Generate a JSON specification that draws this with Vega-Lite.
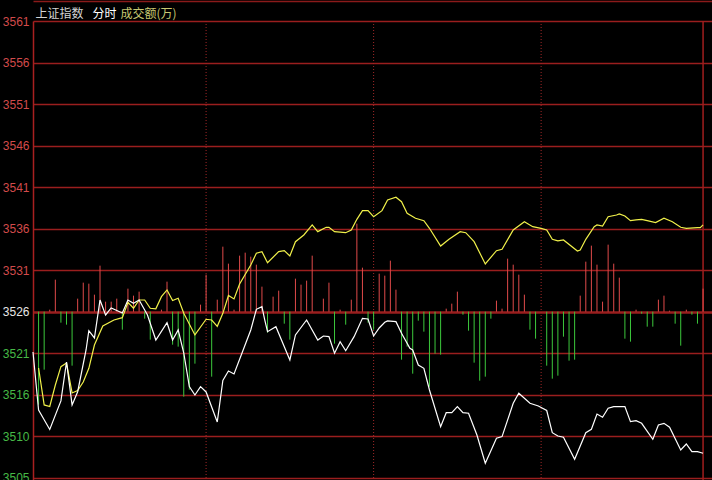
{
  "$schema": "https://vega.github.io/schema/vega-lite/v6.json",
  "width": 679,
  "height": 459,
  "autosize": {"type": "none"},
  "padding": {"left": 33, "top": 21, "right": 0, "bottom": 0},
  "background": "#000000",
  "config": {"view": {"stroke": null}, "font": "Liberation Sans"},
  "datasets": {
    "sessions": [{"t": 60}, {"t": 120}, {"t": 180}],
    "close": [{"t": 238}],
    "vol": [
      {"t": 0, "v": -9300}, {"t": 2, "v": -5800}, {"t": 4, "v": 200}, {"t": 6, "v": 3200}, {"t": 8, "v": -1100}, {"t": 10, "v": -1300}, {"t": 12, "v": -5400}, {"t": 14, "v": 1300}, {"t": 16, "v": 2900}, {"t": 18, "v": 2800}, {"t": 20, "v": 1700}, {"t": 22, "v": 4600}, {"t": 24, "v": 1000}, {"t": 26, "v": 1000}, {"t": 28, "v": 1300}, {"t": 30, "v": -1800}, {"t": 32, "v": 2300}, {"t": 34, "v": 1600}, {"t": 36, "v": 2000}, {"t": 38, "v": -700}, {"t": 40, "v": -2800}, {"t": 44, "v": 200}, {"t": 46, "v": 3000}, {"t": 48, "v": -3300}, {"t": 50, "v": -3500}, {"t": 52, "v": -8500}, {"t": 54, "v": -7800}, {"t": 56, "v": -5200}, {"t": 58, "v": 700}, {"t": 60, "v": 3700}, {"t": 62, "v": -6500}, {"t": 64, "v": 1200}, {"t": 66, "v": 6500}, {"t": 68, "v": 4800}, {"t": 70, "v": 200}, {"t": 72, "v": 5600}, {"t": 74, "v": 5900}, {"t": 76, "v": 5500}, {"t": 78, "v": 4700}, {"t": 80, "v": 2500}, {"t": 82, "v": -2100}, {"t": 84, "v": 1500}, {"t": 86, "v": 2100}, {"t": 88, "v": -1200}, {"t": 90, "v": -2800}, {"t": 92, "v": 3300}, {"t": 94, "v": 2700}, {"t": 96, "v": 3100}, {"t": 98, "v": 5600}, {"t": 102, "v": 1300}, {"t": 104, "v": 2900}, {"t": 106, "v": -3200}, {"t": 108, "v": 200}, {"t": 110, "v": -1300}, {"t": 112, "v": 1200}, {"t": 114, "v": 8800}, {"t": 116, "v": 4400}, {"t": 118, "v": -1100}, {"t": 120, "v": -1800}, {"t": 122, "v": 3800}, {"t": 124, "v": 3600}, {"t": 126, "v": 5100}, {"t": 128, "v": 2200}, {"t": 130, "v": -4800}, {"t": 132, "v": -3500}, {"t": 134, "v": -6200}, {"t": 136, "v": -900}, {"t": 138, "v": -2000}, {"t": 140, "v": -7500}, {"t": 142, "v": -4200}, {"t": 144, "v": -4300}, {"t": 146, "v": 300}, {"t": 148, "v": 800}, {"t": 150, "v": 2000}, {"t": 152, "v": -300}, {"t": 154, "v": -1900}, {"t": 156, "v": -5100}, {"t": 158, "v": -6900}, {"t": 160, "v": -6500}, {"t": 162, "v": -700}, {"t": 164, "v": 1100}, {"t": 166, "v": 300}, {"t": 168, "v": 5300}, {"t": 170, "v": 4700}, {"t": 172, "v": 3700}, {"t": 174, "v": 1700}, {"t": 176, "v": -1800}, {"t": 178, "v": -2700}, {"t": 182, "v": -5400}, {"t": 184, "v": -6700}, {"t": 186, "v": -6400}, {"t": 188, "v": -2500}, {"t": 190, "v": -4900}, {"t": 192, "v": -4800}, {"t": 194, "v": 1600}, {"t": 196, "v": 5000}, {"t": 198, "v": 6600}, {"t": 200, "v": 4700}, {"t": 202, "v": 1000}, {"t": 204, "v": 6700}, {"t": 206, "v": 4800}, {"t": 208, "v": 3400}, {"t": 210, "v": -2700}, {"t": 212, "v": -3000}, {"t": 214, "v": 200}, {"t": 216, "v": -200}, {"t": 218, "v": -1500}, {"t": 220, "v": -1500}, {"t": 222, "v": 1200}, {"t": 224, "v": 1600}, {"t": 226, "v": 100}, {"t": 228, "v": -1200}, {"t": 230, "v": -3400}, {"t": 232, "v": 200}, {"t": 234, "v": -300}, {"t": 236, "v": -1200}, {"t": 238, "v": 2300}
    ],
    "lines": [
      {"series": "均价", "t": 0, "p": 3519.3}, {"series": "均价", "t": 2, "p": 3514.78}, {"series": "均价", "t": 4, "p": 3514.59}, {"series": "均价", "t": 6, "p": 3517.22}, {"series": "均价", "t": 8, "p": 3519.47}, {"series": "均价", "t": 10, "p": 3519.92}, {"series": "均价", "t": 12, "p": 3516.25}, {"series": "均价", "t": 14, "p": 3516.55}, {"series": "均价", "t": 16, "p": 3517.59}, {"series": "均价", "t": 18, "p": 3519.27}, {"series": "均价", "t": 20, "p": 3522.12}, {"series": "均价", "t": 23, "p": 3524.45}, {"series": "均价", "t": 27, "p": 3525.18}, {"series": "均价", "t": 30, "p": 3525.47}, {"series": "均价", "t": 32, "p": 3527.33}, {"series": "均价", "t": 34, "p": 3526.62}, {"series": "均价", "t": 36, "p": 3527.63}, {"series": "均价", "t": 38, "p": 3527.63}, {"series": "均价", "t": 40, "p": 3526.62}, {"series": "均价", "t": 42, "p": 3526.55}, {"series": "均价", "t": 44, "p": 3528.04}, {"series": "均价", "t": 46, "p": 3528.86}, {"series": "均价", "t": 48, "p": 3527.57}, {"series": "均价", "t": 50, "p": 3527.84}, {"series": "均价", "t": 52, "p": 3526.0}, {"series": "均价", "t": 56, "p": 3523.35}, {"series": "均价", "t": 60, "p": 3525.27}, {"series": "均价", "t": 62, "p": 3525.18}, {"series": "均价", "t": 64, "p": 3524.41}, {"series": "均价", "t": 66, "p": 3526.0}, {"series": "均价", "t": 68, "p": 3528.18}, {"series": "均价", "t": 70, "p": 3527.76}, {"series": "均价", "t": 72, "p": 3529.59}, {"series": "均价", "t": 76, "p": 3531.92}, {"series": "均价", "t": 78, "p": 3533.35}, {"series": "均价", "t": 80, "p": 3533.55}, {"series": "均价", "t": 82, "p": 3532.2}, {"series": "均价", "t": 86, "p": 3533.55}, {"series": "均价", "t": 88, "p": 3533.67}, {"series": "均价", "t": 90, "p": 3533.02}, {"series": "均价", "t": 92, "p": 3534.77}, {"series": "均价", "t": 95, "p": 3535.59}, {"series": "均价", "t": 98, "p": 3536.82}, {"series": "均价", "t": 100, "p": 3536.0}, {"series": "均价", "t": 103, "p": 3536.53}, {"series": "均价", "t": 104, "p": 3536.53}, {"series": "均价", "t": 106, "p": 3536.0}, {"series": "均价", "t": 110, "p": 3535.87}, {"series": "均价", "t": 112, "p": 3536.2}, {"series": "均价", "t": 114, "p": 3537.51}, {"series": "均价", "t": 116, "p": 3538.57}, {"series": "均价", "t": 118, "p": 3538.57}, {"series": "均价", "t": 120, "p": 3537.83}, {"series": "均价", "t": 123, "p": 3538.57}, {"series": "均价", "t": 125, "p": 3539.88}, {"series": "均价", "t": 128, "p": 3540.21}, {"series": "均价", "t": 130, "p": 3539.67}, {"series": "均价", "t": 132, "p": 3538.25}, {"series": "均价", "t": 135, "p": 3537.64}, {"series": "均价", "t": 138, "p": 3537.34}, {"series": "均价", "t": 140, "p": 3536.41}, {"series": "均价", "t": 144, "p": 3534.24}, {"series": "均价", "t": 147, "p": 3535.06}, {"series": "均价", "t": 151, "p": 3536.0}, {"series": "均价", "t": 153, "p": 3535.87}, {"series": "均价", "t": 156, "p": 3534.77}, {"series": "均价", "t": 160, "p": 3532.04}, {"series": "均价", "t": 164, "p": 3533.67}, {"series": "均价", "t": 166, "p": 3533.84}, {"series": "均价", "t": 170, "p": 3536.2}, {"series": "均价", "t": 174, "p": 3537.22}, {"series": "均价", "t": 177, "p": 3536.61}, {"series": "均价", "t": 180, "p": 3536.39}, {"series": "均价", "t": 182, "p": 3536.2}, {"series": "均价", "t": 184, "p": 3535.06}, {"series": "均价", "t": 186, "p": 3534.86}, {"series": "均价", "t": 188, "p": 3534.98}, {"series": "均价", "t": 193, "p": 3533.63}, {"series": "均价", "t": 194, "p": 3533.75}, {"series": "均价", "t": 196, "p": 3535.06}, {"series": "均价", "t": 199, "p": 3536.61}, {"series": "均价", "t": 200, "p": 3536.82}, {"series": "均价", "t": 202, "p": 3536.69}, {"series": "均价", "t": 204, "p": 3537.83}, {"series": "均价", "t": 207, "p": 3538.04}, {"series": "均价", "t": 208, "p": 3538.16}, {"series": "均价", "t": 210, "p": 3537.92}, {"series": "均价", "t": 212, "p": 3537.34}, {"series": "均价", "t": 214, "p": 3537.43}, {"series": "均价", "t": 216, "p": 3537.51}, {"series": "均价", "t": 218, "p": 3537.34}, {"series": "均价", "t": 221, "p": 3537.1}, {"series": "均价", "t": 224, "p": 3537.64}, {"series": "均价", "t": 227, "p": 3537.22}, {"series": "均价", "t": 230, "p": 3536.53}, {"series": "均价", "t": 232, "p": 3536.41}, {"series": "均价", "t": 236, "p": 3536.49}, {"series": "均价", "t": 237, "p": 3536.49}, {"series": "均价", "t": 238, "p": 3536.82},
      {"series": "分时", "t": -2, "p": 3521.27}, {"series": "分时", "t": 0, "p": 3514.16}, {"series": "分时", "t": 4, "p": 3511.78}, {"series": "分时", "t": 8, "p": 3515.27}, {"series": "分时", "t": 10, "p": 3520.04}, {"series": "分时", "t": 12, "p": 3514.78}, {"series": "分时", "t": 14, "p": 3516.4}, {"series": "分时", "t": 17, "p": 3521.51}, {"series": "分时", "t": 18, "p": 3523.87}, {"series": "分时", "t": 20, "p": 3522.98}, {"series": "分时", "t": 22, "p": 3527.63}, {"series": "分时", "t": 24, "p": 3525.8}, {"series": "分时", "t": 26, "p": 3526.65}, {"series": "分时", "t": 30, "p": 3526.04}, {"series": "分时", "t": 32, "p": 3527.63}, {"series": "分时", "t": 34, "p": 3527.23}, {"series": "分时", "t": 36, "p": 3527.63}, {"series": "分时", "t": 39, "p": 3525.8}, {"series": "分时", "t": 42, "p": 3522.73}, {"series": "分时", "t": 46, "p": 3524.85}, {"series": "分时", "t": 48, "p": 3522.73}, {"series": "分时", "t": 50, "p": 3523.96}, {"series": "分时", "t": 52, "p": 3521.14}, {"series": "分时", "t": 54, "p": 3517.02}, {"series": "分时", "t": 56, "p": 3516.0}, {"series": "分时", "t": 58, "p": 3517.02}, {"series": "分时", "t": 60, "p": 3516.37}, {"series": "分时", "t": 64, "p": 3512.7}, {"series": "分时", "t": 66, "p": 3517.78}, {"series": "分时", "t": 68, "p": 3518.94}, {"series": "分时", "t": 70, "p": 3518.57}, {"series": "分时", "t": 73, "p": 3521.27}, {"series": "分时", "t": 76, "p": 3523.96}, {"series": "分时", "t": 78, "p": 3526.49}, {"series": "分时", "t": 80, "p": 3526.81}, {"series": "分时", "t": 81, "p": 3525.2}, {"series": "分时", "t": 82, "p": 3523.75}, {"series": "分时", "t": 85, "p": 3524.36}, {"series": "分时", "t": 90, "p": 3520.29}, {"series": "分时", "t": 92, "p": 3523.35}, {"series": "分时", "t": 96, "p": 3525.18}, {"series": "分时", "t": 100, "p": 3522.73}, {"series": "分时", "t": 102, "p": 3523.22}, {"series": "分时", "t": 104, "p": 3523.14}, {"series": "分时", "t": 106, "p": 3521.11}, {"series": "分时", "t": 108, "p": 3522.53}, {"series": "分时", "t": 110, "p": 3521.42}, {"series": "分时", "t": 113, "p": 3523.14}, {"series": "分时", "t": 116, "p": 3525.39}, {"series": "分时", "t": 118, "p": 3525.31}, {"series": "分时", "t": 120, "p": 3523.22}, {"series": "分时", "t": 122, "p": 3524.2}, {"series": "分时", "t": 124, "p": 3524.9}, {"series": "分时", "t": 125, "p": 3525.06}, {"series": "分时", "t": 128, "p": 3524.98}, {"series": "分时", "t": 130, "p": 3523.56}, {"series": "分时", "t": 133, "p": 3521.72}, {"series": "分时", "t": 134, "p": 3521.51}, {"series": "分时", "t": 136, "p": 3519.67}, {"series": "分时", "t": 138, "p": 3519.27}, {"series": "分时", "t": 140, "p": 3516.61}, {"series": "分时", "t": 144, "p": 3512.12}, {"series": "分时", "t": 146, "p": 3513.83}, {"series": "分时", "t": 148, "p": 3513.83}, {"series": "分时", "t": 150, "p": 3514.57}, {"series": "分时", "t": 152, "p": 3513.83}, {"series": "分时", "t": 154, "p": 3513.76}, {"series": "分时", "t": 157, "p": 3511.1}, {"series": "分时", "t": 160, "p": 3507.64}, {"series": "分时", "t": 164, "p": 3510.7}, {"series": "分时", "t": 166, "p": 3510.9}, {"series": "分时", "t": 170, "p": 3514.98}, {"series": "分时", "t": 172, "p": 3516.21}, {"series": "分时", "t": 176, "p": 3514.98}, {"series": "分时", "t": 179, "p": 3514.65}, {"series": "分时", "t": 182, "p": 3514.1}, {"series": "分时", "t": 184, "p": 3511.38}, {"series": "分时", "t": 186, "p": 3510.98}, {"series": "分时", "t": 188, "p": 3510.82}, {"series": "分时", "t": 192, "p": 3508.13}, {"series": "分时", "t": 196, "p": 3511.38}, {"series": "分时", "t": 198, "p": 3511.8}, {"series": "分时", "t": 200, "p": 3513.67}, {"series": "分时", "t": 202, "p": 3513.27}, {"series": "分时", "t": 204, "p": 3514.37}, {"series": "分时", "t": 206, "p": 3514.57}, {"series": "分时", "t": 210, "p": 3514.57}, {"series": "分时", "t": 212, "p": 3512.73}, {"series": "分时", "t": 214, "p": 3512.85}, {"series": "分时", "t": 216, "p": 3512.53}, {"series": "分时", "t": 220, "p": 3510.58}, {"series": "分时", "t": 222, "p": 3512.33}, {"series": "分时", "t": 224, "p": 3512.53}, {"series": "分时", "t": 226, "p": 3512.05}, {"series": "分时", "t": 230, "p": 3509.27}, {"series": "分时", "t": 232, "p": 3510.0}, {"series": "分时", "t": 234, "p": 3509.06}, {"series": "分时", "t": 236, "p": 3509.06}, {"series": "分时", "t": 238, "p": 3508.86}
    ]
  },
  "layer": [
    {
      "data": {"name": "sessions"},
      "mark": {"type": "rule", "color": "#a02828", "strokeWidth": 1, "strokeDash": [1, 2]},
      "encoding": {
        "x": {"field": "t", "type": "quantitative", "scale": {"domain": [-2, 241.2], "nice": false, "zero": false},
              "axis": {"orient": "top", "offset": 20, "labels": false, "ticks": false, "grid": false, "domain": true, "domainColor": "#8a1a1a", "domainWidth": 1.5, "title": "上证指数", "titleX": 2, "titleY": 16, "titleAngle": 0, "titleAlign": "left", "titleBaseline": "alphabetic", "titleColor": "#d4d4d4", "titleFont": "Noto Sans CJK SC", "titleFontSize": 12, "titleFontWeight": "normal"}}
      }
    },
    {
      "data": {"name": "close"},
      "mark": {"type": "rule", "color": "#a01e1e", "strokeWidth": 1.5},
      "encoding": {
        "x": {"field": "t", "type": "quantitative", "scale": {"domain": [-2, 241.2], "nice": false, "zero": false},
              "axis": {"orient": "top", "offset": 20, "labels": false, "ticks": false, "grid": false, "domain": true, "domainColor": "#8a1a1a", "domainWidth": 1.5, "title": "上证指数", "titleX": 2, "titleY": 16, "titleAngle": 0, "titleAlign": "left", "titleBaseline": "alphabetic", "titleColor": "#d4d4d4", "titleFont": "Noto Sans CJK SC", "titleFontSize": 12, "titleFontWeight": "normal"}}
      }
    },
    {
      "data": {"name": "vol"},
      "mark": {"type": "rule", "strokeWidth": 1},
      "encoding": {
        "x": {"field": "t", "type": "quantitative", "scale": {"domain": [-2, 241.2], "nice": false, "zero": false},
              "axis": {"orient": "top", "offset": 20, "labels": false, "ticks": false, "grid": false, "domain": true, "domainColor": "#8a1a1a", "domainWidth": 1.5, "title": "上证指数", "titleX": 2, "titleY": 16, "titleAngle": 0, "titleAlign": "left", "titleBaseline": "alphabetic", "titleColor": "#d4d4d4", "titleFont": "Noto Sans CJK SC", "titleFontSize": 12, "titleFontWeight": "normal"}},
        "y": {"field": "v", "type": "quantitative", "scale": {"domain": [-16834, 29066], "nice": false, "zero": false},
              "axis": {"orient": "right", "labels": false, "ticks": false, "domain": false, "grid": false, "title": "成交额(万)", "titleX": -592, "titleY": -4, "titleAngle": 0, "titleAlign": "left", "titleBaseline": "alphabetic", "titleColor": "#c8c872", "titleFont": "Noto Sans CJK SC", "titleFontSize": 12, "titleFontWeight": "normal"}},
        "y2": {"datum": 0},
        "color": {"condition": {"test": "datum.v > 0", "value": "#e04a4a"}, "value": "#3cc83c"}
      }
    },
    {
      "data": {"name": "lines"},
      "mark": {"type": "line", "strokeWidth": 1.2},
      "encoding": {
        "x": {"field": "t", "type": "quantitative", "scale": {"domain": [-2, 241.2], "nice": false, "zero": false},
              "axis": {"orient": "top", "offset": 20, "labels": false, "ticks": false, "grid": false, "domain": true, "domainColor": "#8a1a1a", "domainWidth": 1.5, "title": "上证指数", "titleX": 2, "titleY": 16, "titleAngle": 0, "titleAlign": "left", "titleBaseline": "alphabetic", "titleColor": "#d4d4d4", "titleFont": "Noto Sans CJK SC", "titleFontSize": 12, "titleFontWeight": "normal"}},
        "y": {"field": "p", "type": "quantitative", "scale": {"domain": [3505.59, 3561.79], "nice": false, "zero": false},
              "axis": {"orient": "left",
                       "values": [3505.88, 3510.96, 3516.04, 3521.12, 3526.2, 3531.28, 3536.36, 3541.44, 3546.52, 3551.6, 3556.68, 3561.76],
                       "labelExpr": "floor(datum.value)",
                       "grid": true, "gridColor": "#9a1e1e",
                       "gridWidth": {"condition": {"test": "datum.value > 3526 && datum.value < 3526.4", "value": 2.5}, "value": 1.5},
                       "ticks": false, "domain": true, "domainColor": "#a82020", "domainWidth": 1.5,
                       "labelFont": "Liberation Sans", "labelFontSize": 12, "labelPadding": 4, "labelFlush": false, "labelOverlap": false,
                       "labelColor": {"condition": [{"test": "datum.value > 3527", "value": "#d24b4b"}, {"test": "datum.value < 3525", "value": "#46b946"}], "value": "#e6e6e6"},
                       "title": "分时", "titleX": 59, "titleY": -4, "titleAngle": 0, "titleAlign": "left", "titleBaseline": "alphabetic", "titleColor": "#ffffff", "titleFont": "Noto Sans CJK SC", "titleFontSize": 12, "titleFontWeight": "normal"}},
        "color": {"field": "series", "type": "nominal", "scale": {"domain": ["均价", "分时"], "range": ["#f0f04a", "#ffffff"]}, "legend": null},
        "order": {"field": "t", "type": "quantitative"}
      }
    }
  ],
  "resolve": {"scale": {"y": "independent"}, "axis": {"y": "independent"}}
}
